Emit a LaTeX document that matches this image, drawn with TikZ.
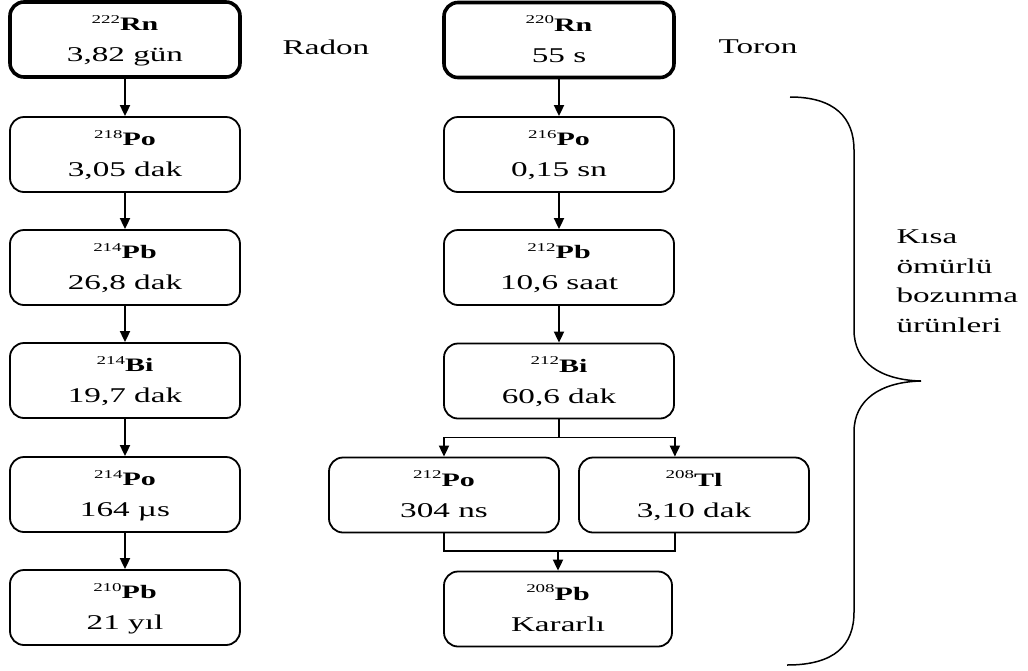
\documentclass[tikz,border=0pt]{standalone}
\usepackage{graphicx}
\usepackage{fontspec}
\setmainfont{Liberation Serif}
\usetikzlibrary{arrows.meta,calc}

\newcommand{\wide}[1]{\scalebox{1.58}[1]{#1}}
\newcommand{\nuclide}[3]{\parbox[c][50pt][t]{220pt}{\centering
  \rule{0pt}{16pt}\wide{\raisebox{7.5pt}{\fontsize{12}{12}\selectfont #1}\fontsize{19}{19}\selectfont\bfseries #2}\\
  \wide{#3}}}

\tikzset{
  decaybox/.style={draw, rounded corners=14pt, minimum width=230pt, minimum height=75pt,
    inner sep=0pt, line width=1.8pt, font=\fontsize{21}{31}\selectfont},
  parentbox/.style={decaybox, line width=3.6pt},
  arr/.style={line width=1.8pt, -{Triangle[length=11pt,width=10pt]}},
  wire/.style={line width=1.8pt},
  note/.style={font=\fontsize{21}{29.5}\selectfont, align=left}
}

\begin{document}
\begin{tikzpicture}[x=1pt,y=-1pt]
\useasboundingbox (0,0) rectangle (1028,670);

% radon chain
\node[parentbox] (rn222) at (125,39.5)  {\nuclide{222}{Rn}{3,82 gün}};
\node[decaybox]  (po218) at (125,154.5) {\nuclide{218}{Po}{3,05 dak}};
\node[decaybox]  (pb214) at (125,267.5) {\nuclide{214}{Pb}{26,8 dak}};
\node[decaybox]  (bi214) at (125,380.5) {\nuclide{214}{Bi}{19,7 dak}};
\node[decaybox]  (po214) at (125,494.5) {\nuclide{214}{Po}{164 µs}};
\node[decaybox]  (pb210) at (125,607.5) {\nuclide{210}{Pb}{21 yıl}};
\node (radon) at (326,47) {\fontsize{21}{21}\selectfont\wide{Radon}};

% thoron chain
\node[parentbox] (rn220) at (559,40)    {\nuclide{220}{Rn}{55 s}};
\node[decaybox]  (po216) at (559,154.5) {\nuclide{216}{Po}{0,15 sn}};
\node[decaybox]  (pb212) at (559,267.5) {\nuclide{212}{Pb}{10,6 saat}};
\node[decaybox]  (bi212) at (559,381)   {\nuclide{212}{Bi}{60,6 dak}};
\node[decaybox]  (po212) at (444,495)   {\nuclide{212}{Po}{304 ns}};
\node[decaybox]  (tl208) at (694,495)   {\nuclide{208}{Tl}{3,10 dak}};
\node[decaybox, minimum width=228pt] (pb208) at (558,609) {\nuclide{208}{Pb}{Kararlı}};
\node (toron) at (758,47) {\fontsize{21}{21}\selectfont\wide{Toron}};

\foreach \a/\b in {rn222/po218,po218/pb214,pb214/bi214,bi214/po214,po214/pb210,
                   rn220/po216,po216/pb212,pb212/bi212}{
  \draw[arr] (\a) -- (\b);}

% branching of 212Bi
\coordinate (split) at ($(bi212.south)+(0,18)$);
\draw[arr] (bi212.south) -- (split) -| (po212.north);
\draw[arr] (split) -| (bi212.east |- tl208.north);

\coordinate (merge) at ($(pb208.north)+(0,-20)$);
\draw[wire] (po212.south) |- (merge);
\draw[wire] (bi212.east |- tl208.south) |- (merge);
\draw[arr] (merge) -- (pb208.north);

% brace
\coordinate (bTop) at (790,97);
\coordinate (bTip) at (921,381);
\coordinate (bEnd) at (787,665);
\draw[line width=1.5pt] (bTop) .. controls (835,97) and (854,118) .. (854,150) -- (854,330)
  .. controls (854,362) and (880,380) .. (bTip)
  .. controls (880,382) and (854,400) .. (854,432) -- (854,612)
  .. controls (854,645) and (835,665) .. (bEnd);
\node[note, anchor=west] (short) at (893,281)
  {\wide{Kısa}\\\wide{ömürlü}\\\wide{bozunma}\\\wide{ürünleri}};
\end{tikzpicture}
\end{document}
